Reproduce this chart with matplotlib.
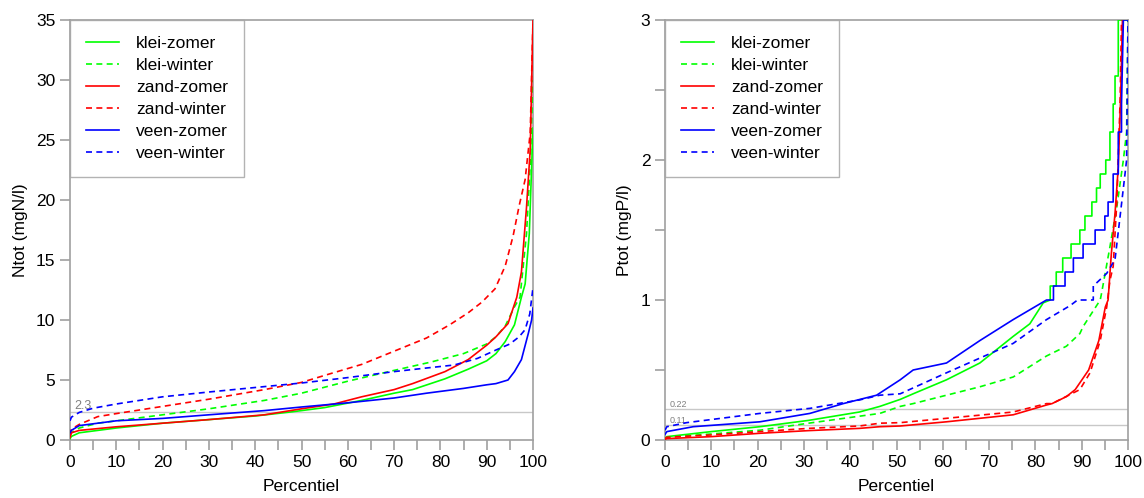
import numpy as np
import matplotlib.pyplot as plt
from matplotlib.ticker import MultipleLocator

plt.rcParams['font.family'] = ['Liberation Sans', 'DejaVu Sans']

# Ntot percentile curves (percentile, mgN/l)
n_klei_zomer_p = [0, 0.3, 2, 10, 20, 30, 40, 48, 55, 63, 70, 74, 81, 86, 90, 92, 94, 96, 97.5, 98.3, 99.2, 100]
n_klei_zomer = [0.1, 0.3, 0.6, 1.0, 1.4, 1.7, 2.0, 2.35, 2.7, 3.3, 3.9, 4.2, 5.1, 5.9, 6.6, 7.2, 8.2, 9.6, 11.9, 13.0, 17.2, 26.0]
n_klei_winter_p = [0, 0.3, 2, 6, 10, 20, 30, 42, 50, 60, 70, 78, 85, 90, 92, 94, 96, 97.2, 98.6, 99.4, 100]
n_klei_winter = [0.4, 0.6, 1.0, 1.4, 1.6, 2.1, 2.6, 3.3, 3.9, 4.9, 5.8, 6.5, 7.2, 8.0, 8.6, 9.5, 11.1, 11.9, 17.2, 23.0, 30.0]
n_zand_zomer_p = [0, 0.3, 2, 10, 20, 30, 42, 50, 57, 63, 70, 74, 81, 86, 90, 92, 94.6, 96.5, 97.5, 98.6, 99.4, 100]
n_zand_zomer = [0.2, 0.6, 0.8, 1.1, 1.4, 1.7, 2.1, 2.6, 3.0, 3.6, 4.2, 4.7, 5.7, 6.7, 7.9, 8.6, 9.7, 11.9, 14.0, 19.4, 24.2, 35.0]
n_zand_winter_p = [0, 0.3, 2, 6, 10, 20, 30, 42, 50, 56, 63, 70, 77, 82, 86, 89, 91.8, 94, 95.7, 97, 98.3, 99.4, 100]
n_zand_winter = [0.4, 0.9, 1.3, 1.95, 2.2, 2.8, 3.4, 4.2, 4.8, 5.5, 6.3, 7.4, 8.5, 9.6, 10.6, 11.5, 12.6, 14.5, 17.0, 19.5, 21.7, 25.6, 35.0]
n_veen_zomer_p = [0, 0.3, 2, 10, 20, 30, 42, 50, 60, 70, 77, 85, 90, 92, 94.6, 96, 97.5, 99, 99.7, 100]
n_veen_zomer = [0.6, 0.8, 1.2, 1.6, 1.8, 2.1, 2.45, 2.75, 3.1, 3.5, 3.9, 4.3, 4.6, 4.7, 5.0, 5.7, 6.7, 8.9, 10.0, 11.0]
n_veen_winter_p = [0, 0.3, 2, 5, 10, 20, 30, 42, 50, 60, 70, 77, 83, 88, 92, 95, 97, 98.3, 99.3, 100]
n_veen_winter = [1.6, 1.9, 2.3, 2.65, 3.0, 3.6, 4.0, 4.45, 4.75, 5.2, 5.7, 6.0, 6.25, 6.8, 7.5, 8.0, 8.6, 9.2, 10.5, 12.7]

# Ptot percentile curves (percentile, mgP/l); upper tail in 0.1 steps
p_klei_zomer_p = [0, 0.4, 10, 20.5, 31, 42, 46.4, 50.8, 53.6, 60.8, 68, 75.2, 78.8, 81.7,
                  83.2, 83.2, 84.5, 84.5, 85.9, 85.9, 87.7, 87.7, 89.6, 89.6, 90.7, 90.7,
                  92.2, 92.2, 93.2, 93.2, 94.0, 94.0, 95.2, 95.2, 96.1, 96.1, 96.8, 96.8,
                  97.2, 97.2, 97.9, 97.9, 100]
p_klei_zomer = [0.01, 0.024, 0.06, 0.095, 0.14, 0.2, 0.24, 0.29, 0.33, 0.43, 0.55, 0.74, 0.83, 0.98,
                1.0, 1.1, 1.1, 1.2, 1.2, 1.3, 1.3, 1.4, 1.4, 1.5, 1.5, 1.6,
                1.6, 1.7, 1.7, 1.8, 1.8, 1.9, 1.9, 2.0, 2.0, 2.2, 2.2, 2.4,
                2.4, 2.6, 2.6, 3.0, 3.0]
p_klei_winter_p = [0, 0.4, 10, 20.5, 31, 42, 46.4, 50.8, 53.6, 60.8, 68, 75.2, 82.4, 86.7, 89.6, 90.3,
                   94, 94.3, 96.1, 97.6, 99, 99.7, 100]
p_klei_winter = [0.01, 0.02, 0.043, 0.07, 0.12, 0.17, 0.19, 0.24, 0.26, 0.32, 0.38, 0.45, 0.6, 0.67, 0.76, 0.81,
                 1.0, 1.05, 1.38, 1.67, 2.0, 2.2, 3.0]
p_zand_zomer_p = [0, 0.4, 10, 20.5, 31, 42, 46.4, 50.8, 60.8, 75.2, 82.4, 83.6, 86.7, 88.6, 91.5,
                  93.7, 95.1, 95.7, 96.4, 97.2, 97.9, 98.4, 98.8]
p_zand_zomer = [0.005, 0.01, 0.024, 0.048, 0.067, 0.083, 0.095, 0.1, 0.13, 0.18, 0.25, 0.26, 0.31, 0.36, 0.5,
                0.71, 0.95, 1.0, 1.33, 1.62, 1.95, 2.43, 3.0]
p_zand_winter_p = [0, 0.4, 10, 20.5, 31, 42, 46.4, 50.8, 60.8, 75.2, 82.4, 83.6, 89.6, 91.8, 94,
                   95.4, 96.1, 96.8, 97.6, 98.3, 98.6]
p_zand_winter = [0.01, 0.02, 0.036, 0.06, 0.083, 0.1, 0.12, 0.124, 0.155, 0.2, 0.26, 0.26, 0.36, 0.48, 0.71,
                 0.95, 1.14, 1.24, 1.71, 2.43, 3.0]
p_veen_zomer_p = [0, 0.4, 6.1, 20.5, 31.3, 38.5, 45.7, 50.8, 53.6, 60.8, 68, 75.2, 82.4,
                  83.9, 83.9, 86.4, 86.4, 88.2, 88.2, 90.3, 90.3, 92.9, 92.9, 95.0, 95.0, 95.7, 95.7,
                  96.8, 96.8, 97.9, 97.9, 98.6, 98.6, 99.0, 100]
p_veen_zomer = [0.04, 0.06, 0.095, 0.13, 0.19, 0.26, 0.32, 0.43, 0.5, 0.55, 0.71, 0.86, 1.0,
                1.0, 1.1, 1.1, 1.2, 1.2, 1.3, 1.3, 1.4, 1.4, 1.5, 1.5, 1.6, 1.6, 1.7,
                1.7, 1.9, 1.9, 2.2, 2.2, 2.4, 3.0, 3.0]
p_veen_winter_p = [0, 0.4, 4.7, 20.5, 31.3, 42, 46.4, 50.8, 60.8, 75.2, 82.4, 87.5, 89.1, 92.5, 92.5,
                   95.4, 97.2, 98.3, 99.7, 100]
p_veen_winter = [0.07, 0.095, 0.124, 0.19, 0.226, 0.286, 0.32, 0.33, 0.48, 0.69, 0.86, 0.96, 1.0, 1.0, 1.1,
                 1.19, 1.29, 1.6, 2.0, 3.0]

labels = ['klei-zomer', 'klei-winter', 'zand-zomer', 'zand-winter', 'veen-zomer', 'veen-winter']
colors = ['#00ff00', '#00ff00', '#ff0000', '#ff0000', '#0000ff', '#0000ff']
styles = ['-', (0, (3.6, 2.6)), '-', (0, (3.6, 2.6)), '-', (0, (3.6, 2.6))]

ntot = [(n_klei_zomer_p, n_klei_zomer), (n_klei_winter_p, n_klei_winter),
        (n_zand_zomer_p, n_zand_zomer), (n_zand_winter_p, n_zand_winter),
        (n_veen_zomer_p, n_veen_zomer), (n_veen_winter_p, n_veen_winter)]
ptot = [(p_klei_zomer_p, p_klei_zomer), (p_klei_winter_p, p_klei_winter),
        (p_zand_zomer_p, p_zand_zomer), (p_zand_winter_p, p_zand_winter),
        (p_veen_zomer_p, p_veen_zomer), (p_veen_winter_p, p_veen_winter)]

n_norm = [2.3]
p_norm = [0.22, 0.11]

gray = '#a0a0a0'
fig = plt.figure(figsize=(11.44, 4.98), dpi=100)
ax1 = fig.add_axes([70 / 1144, 58 / 498, 463 / 1144, 420 / 498])
ax2 = fig.add_axes([665 / 1144, 58 / 498, 463 / 1144, 420 / 498])


def style_axis(ax, ymax, ymaj, ymin, ylabel):
    ax.set_xlim(0, 100)
    ax.set_ylim(0, ymax)
    ax.xaxis.set_major_locator(MultipleLocator(10))
    ax.xaxis.set_minor_locator(MultipleLocator(5))
    ax.yaxis.set_major_locator(MultipleLocator(ymaj))
    ax.yaxis.set_minor_locator(MultipleLocator(ymin))
    for s in ax.spines.values():
        s.set_color(gray)
        s.set_linewidth(1.2)
    ax.tick_params(which='both', direction='out', color=gray, width=1.2, labelsize=12.5,
                   labelcolor='black', length=7)
    ax.set_xlabel('Percentiel', fontsize=12.5, labelpad=7)
    ax.set_ylabel(ylabel, fontsize=12.5, labelpad=6)


for ax, data, norms, ymax, ymaj, ymin, ylabel, fs in [
        (ax1, ntot, n_norm, 35, 5, 5, 'Ntot (mgN/l)', 9),
        (ax2, ptot, p_norm, 3, 1, 0.5, 'Ptot (mgP/l)', 6.5)]:
    style_axis(ax, ymax, ymaj, ymin, ylabel)
    for v in norms:
        ax.axhline(v, color='#c8c8c8', lw=1, zorder=1)
        ax.text(1, v, f'{v:g}', color='#808080', fontsize=fs, va='bottom', ha='left')
    for (p, y), lab, c, ls in zip(data, labels, colors, styles):
        ax.plot(p, y, color=c, ls=ls, lw=1.2, label=lab, zorder=3)
    leg = ax.legend(loc='upper left', bbox_to_anchor=(0, 1), fontsize=12.5, frameon=True,
                    fancybox=False, borderaxespad=0, handlelength=1.9, handletextpad=1.0,
                    labelspacing=0.4, borderpad=0.9)
    leg.get_frame().set_edgecolor(gray)
    leg.get_frame().set_linewidth(1)

fig.savefig('out.png', dpi=100)
